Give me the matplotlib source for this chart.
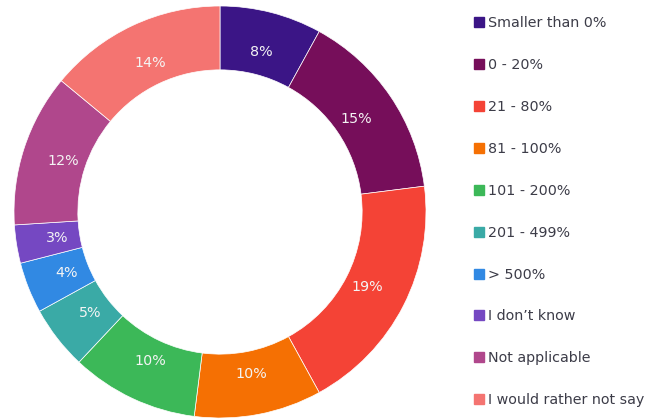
import matplotlib.pyplot as plt
from matplotlib.lines import Line2D

categories = [
    "Smaller than 0%",
    "0 - 20%",
    "21 - 80%",
    "81 - 100%",
    "101 - 200%",
    "201 - 499%",
    "> 500%",
    "I don\u2019t know",
    "Not applicable",
    "I would rather not say",
]
shares = [8, 15, 19, 10, 10, 5, 4, 3, 12, 14]
colors = [
    "#3b1586", "#760e5a", "#f44336", "#f57003", "#3cb858",
    "#3aaaa6", "#3189e3", "#7548c2", "#b0478c", "#f47471",
]

fig = plt.figure(figsize=(6.6, 4.19), dpi=100)
# donut axes: centre at (220, 212) px, outer radius about 206 px
ax = fig.add_axes([14 / 660, 1 / 419, 412 / 660, 412 / 419])

wedges, texts, autotexts = ax.pie(
    shares,
    colors=colors,
    startangle=90,
    counterclock=False,
    radius=1.0,
    autopct="%d%%",
    pctdistance=0.80,
    wedgeprops=dict(width=0.31, edgecolor="white", linewidth=0.5),
    textprops=dict(color="#f4f4f4", fontsize=10.3),
)
ax.set_xlim(-1, 1)
ax.set_ylim(-1, 1)
ax.set_aspect("equal")
ax.axis("off")

handles = [
    Line2D([], [], marker="s", linestyle="none", markersize=6.5,
           markerfacecolor=c, markeredgecolor=c)
    for c in colors
]
leg = fig.legend(
    handles, categories,
    loc="upper left",
    bbox_to_anchor=(468 / 660, 1 - 9 / 419),
    frameon=False,
    fontsize=10.3,
    handlelength=0.6,
    handletextpad=0.3,
    labelspacing=1.95,
    borderpad=0,
)
for t in leg.get_texts():
    t.set_color("#3c3c48")

fig.savefig("out.png", dpi=100)
